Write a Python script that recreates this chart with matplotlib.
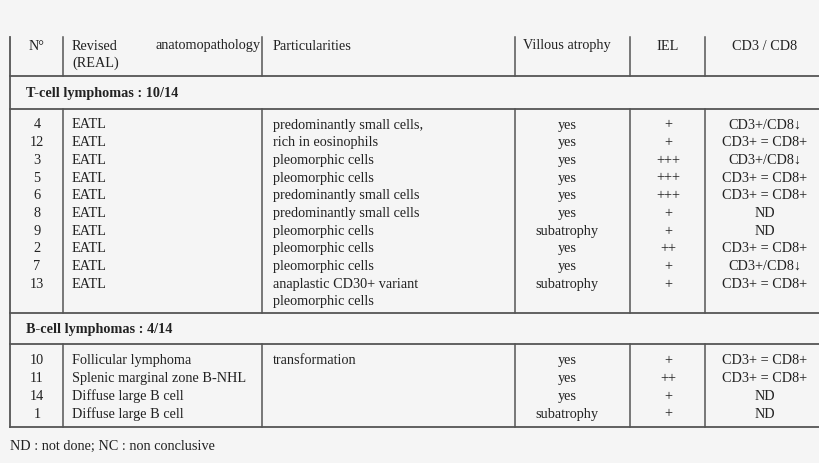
import matplotlib
matplotlib.use("Agg")
import matplotlib.pyplot as plt

ids_t = ["4", "12", "3", "5", "6", "8", "9", "2", "7", "13"]
anat_t = ["EATL"] * 10
part_t = ["predominantly small cells,", "rich in eosinophils", "pleomorphic cells", "pleomorphic cells",
          "predominantly small cells", "predominantly small cells", "pleomorphic cells", "pleomorphic cells",
          "pleomorphic cells", "anaplastic CD30+ variant"]
vill_t = ["yes", "yes", "yes", "yes", "yes", "yes", "subatrophy", "yes", "yes", "subatrophy"]
iel_t = ["+", "+", "+++", "+++", "+++", "+", "+", "++", "+", "+"]
cd_t = ["CD3+/CD8↓", "CD3+ = CD8+", "CD3+/CD8↓", "CD3+ = CD8+", "CD3+ = CD8+", "ND", "ND",
        "CD3+ = CD8+", "CD3+/CD8↓", "CD3+ = CD8+"]

ids_b = ["10", "11", "14", "1"]
anat_b = ["Follicular lymphoma", "Splenic marginal zone B-NHL", "Diffuse large B cell", "Diffuse large B cell"]
part_b = ["transformation", "", "", ""]
vill_b = ["yes", "yes", "yes", "subatrophy"]
iel_b = ["+", "++", "+", "+"]
cd_b = ["CD3+ = CD8+", "CD3+ = CD8+", "ND", "ND"]

bg = "#f5f5f5"
fig = plt.figure(figsize=(8.2, 4.64), dpi=100, facecolor=bg)
ax = fig.add_axes([0, 0, 1, 1])
ax.set_facecolor(bg)
ax.set_xlim(0, 820)
ax.set_ylim(464, 0)
ax.axis("off")

fam = ["Liberation Serif", "DejaVu Serif"]
fs = 10.3
tc = "#222222"
lc = "#555555"

def txt(x, y, s, ha="left", bold=False, size=fs):
    ax.text(x, y, s, ha=ha, va="center", fontsize=size, family=fam, color=tc,
            fontweight="bold" if bold else "normal")

for y in [77, 110, 314, 345, 428]:
    ax.plot([10, 820], [y, y], color=lc, lw=1.3)
ax.plot([10, 10], [38, 428], color=lc, lw=1.3)
vx = [63, 262, 515, 630, 705]
for x in vx:
    ax.plot([x, x], [38, 77], color=lc, lw=1.1)
    ax.plot([x, x], [110, 314], color=lc, lw=1.1)
    ax.plot([x, x], [345, 428], color=lc, lw=1.1)

txt(37, 46, "N°", "center")
txt(72, 46, "Revised")
txt(261, 46, "anatomopathology", "right")
txt(72, 63, "(REAL)")
txt(273, 46, "Particularities")
txt(567, 46, "Villous atrophy", "center")
txt(668, 46, "IEL", "center")
txt(765, 46, "CD3 / CD8", "center")

txt(26, 94, "T-cell lymphomas : 10/14", bold=True)
txt(26, 330, "B-cell lymphomas : 4/14", bold=True)

y0, dy = 125, 17.7
for i in range(len(ids_t)):
    y = y0 + i * dy
    txt(37, y, ids_t[i], "center")
    txt(72, y, anat_t[i])
    txt(273, y, part_t[i])
    txt(567, y, vill_t[i], "center")
    txt(668, y, iel_t[i], "center")
    txt(765, y, cd_t[i], "center")
txt(273, y0 + len(ids_t) * dy, "pleomorphic cells")

y0b = 361
for i in range(len(ids_b)):
    y = y0b + i * dy
    txt(37, y, ids_b[i], "center")
    txt(72, y, anat_b[i])
    txt(273, y, part_b[i])
    txt(567, y, vill_b[i], "center")
    txt(668, y, iel_b[i], "center")
    txt(765, y, cd_b[i], "center")

txt(10, 446, "ND : not done; NC : non conclusive")

fig.savefig("out.png", dpi=100, facecolor=bg)
